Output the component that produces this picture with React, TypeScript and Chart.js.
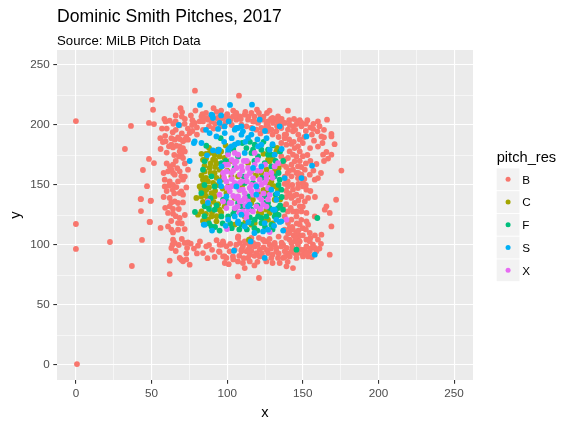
import { useEffect, useRef } from "react";
import { Chart, registerables } from "chart.js";

Chart.register(...registerables);

const FONT = '"Liberation Sans", Arial, Helvetica, sans-serif';
const TITLE = "Dominic Smith Pitches, 2017";
const SUBTITLE = "Source: MiLB Pitch Data";
const X_TITLE = "x";
const Y_TITLE = "y";
const LEGEND_TITLE = "pitch_res";
const CATEGORIES = ["B", "C", "F", "S", "X"];
const COLORS = ["#F8766D", "#A3A500", "#00BF7D", "#00B0F6", "#E76BF3"];
const AXIS_TICKS = [0, 25, 50, 75, 100, 125, 150, 175, 200, 225, 250];
const AXIS_LABEL_TICKS = [0, 50, 100, 150, 200, 250];
const AXIS_MIN = -12.5;
const AXIS_MAX = 262.5;

const B_POINTS: [number, number][] = [
  [0, 203.3], [0, 117.5], [0, 96.7], [0.7, 0.8], [22.5, 102.5], [37, 82.5], [32.4, 180], [36.4, 199.2],
  [48.3, 201.7], [51.6, 200.8], [48.3, 171.7], [51.6, 168.3], [44.3, 162.5], [47, 149], [43, 138.3],
  [49.6, 137], [43, 128.3], [49, 119.2], [43.7, 104.2], [51, 212.7], [50.3, 221], [78.7, 228.6],
  [107.8, 224.4], [69.2, 214], [70.2, 210.8], [119.7, 212.8],
  [56.9, 197], [58.5, 205], [59.3, 203], [62, 203.6], [64.4, 201], [65.9, 203], [68.6, 199.7], [71.9, 201],
  [75.2, 193.3], [76.8, 200], [78.5, 201.7], [81.8, 203], [83, 207], [83.6, 209], [85.1, 205.8], [87.5, 204.4],
  [89.6, 203], [92.9, 205.8], [95, 207], [97.3, 205.8], [100.6, 205.8], [103.8, 207], [106, 204.4], [107.2, 205.8],
  [126.3, 210], [140.2, 211.9], [133.6, 207.2], [132.5, 204.4], [133.6, 203], [144.2, 205], [146.9, 203], [166, 204.4],
  [111.6, 208.6], [108.3, 207.2], [113.8, 204.4], [117.1, 203], [120.4, 201.7], [123.7, 204.4], [127, 203],
  [130.3, 201.7], [135.8, 200.3], [138, 201.7], [141.3, 200.3], [143.5, 198.9], [145.8, 200.8], [149.1, 198.9],
  [109.4, 200.3], [112.7, 198.9], [116, 197.5], [119.3, 196.1], [122.6, 197.5], [125.9, 198.9], [129.2, 196.1],
  [132.5, 194.7], [135.8, 197.5], [140.2, 196.1], [143.5, 194.7],
  [80, 198], [84, 196], [88, 199], [92, 201], [96, 199], [99, 202], [103, 200], [86, 210], [93, 211], [100, 209],
  [104, 212], [112, 211], [118, 207], [124, 207], [130, 206], [136, 205], [148, 204], [152, 201], [155, 198],
  [127, 199], [72, 205], [66, 208], [60, 197], [74, 197],
  [66, 196], [70, 193], [73, 190], [77, 195], [80, 192], [84, 203], [88, 206], [91, 197], [95, 204], [98, 207],
  [102, 204], [105, 208], [109, 205], [114, 207], [118, 203], [122, 206], [126, 201], [129, 205], [133, 199],
  [137, 202], [141, 204], [145, 196], [149, 202], [153, 204], [157, 201], [161, 199], [164, 196], [160, 203],
  [156, 192], [152, 195], [147, 192], [138, 192], [134, 190], [130, 192], [127, 195], [122, 193], [70, 207],
  [76, 208], [79, 212], [91, 214], [96, 212], [106, 210], [116, 210], [121, 210], [128, 212], [64, 194],
  [59, 191], [77, 204],
  [156.8, 196.7], [159.7, 194.7], [162.3, 190.5], [164, 189.7], [168.9, 192.5], [168.9, 190.5], [157.4, 186.9],
  [154.8, 180.8], [163.4, 175.3], [165.6, 177.5], [168.9, 175.3], [166.7, 172], [159, 167.5], [175.5, 162],
  [138, 189], [135.8, 185], [139.1, 183.6], [142.5, 184.2], [144.6, 180.8], [146.8, 182.2], [141.3, 178],
  [143.5, 175.3], [145.8, 173.8], [140.2, 172.5], [144.6, 169.7], [142.5, 166.9], [146.8, 165.5], [143.5, 162.8],
  [145.8, 160], [142.5, 157.2], [146.8, 155.8], [149.1, 158.6], [151.3, 162.8], [154.6, 158.6], [135.8, 173.8],
  [136.9, 166.9], [157.9, 154.4], [160, 155.8], [138, 171],
  [150, 152], [148, 170], [150, 185], [153, 175], [138, 151], [140, 160], [139, 140], [137, 132], [155, 145],
  [158, 140], [160, 182],
  [139, 192], [141, 188], [144, 186], [148, 188], [151, 190], [148, 178], [150, 174], [147, 160], [149, 165],
  [152, 168], [155, 170], [139, 165], [141, 162], [138, 157], [140, 153], [143, 150], [147, 151], [151, 155],
  [152, 150], [139, 145], [141, 143], [144, 141], [147, 137], [150, 132], [146, 128], [140, 128], [139, 134],
  [142, 131], [146, 118], [149, 121], [150, 114], [144, 108], [139, 106], [148, 108], [155, 106], [158, 108],
  [162, 101], [155, 97], [150, 92], [140, 93], [137, 100], [164, 170], [162, 160], [157, 162], [171, 184],
  [163, 185],
  [140.2, 148.8], [143.5, 146.1], [146.8, 147.5], [150.1, 148.8], [152.4, 146.1], [145.8, 141.9], [142.5, 139.2],
  [149.1, 140.5], [151.3, 136.3], [153.5, 139.2], [144.6, 135], [148, 132.2], [143.5, 128], [149.1, 128],
  [152.4, 126.7], [145.8, 123.8], [142.5, 121.1], [140.2, 118.3], [141.3, 114.2], [143.5, 112.8], [145.8, 110],
  [146.8, 105.8], [144.6, 103], [148, 103], [142.5, 101.7], [151.3, 96.1], [146.8, 93.3], [153.5, 90.5],
  [154.6, 103], [157.9, 97.5], [140.2, 110], [141.3, 104.4], [157.9, 123.8], [152.4, 119.7], [153.5, 116.9],
  [165.6, 132.2], [167.8, 126.7], [168.9, 115.5], [172, 137.7], [164.5, 129.4], [138, 123.8], [138, 112.8],
  [143, 115], [147, 112], [150, 108], [145, 106], [141, 110], [152, 113], [148, 117],
  [95, 94.2], [96.2, 100.3], [97.2, 103], [98.3, 90.5], [103.8, 90.5], [107.1, 106.3], [108.3, 101.7],
  [109.4, 96.1], [110.4, 98.8], [112.7, 101.7], [114.9, 98.8], [117.1, 101.7], [119.3, 100.3], [121.5, 96.1],
  [112.7, 94.7], [113.8, 89.2], [107.1, 86.3], [110.4, 85], [114.9, 86.3], [111.6, 80.8], [114.9, 91.9],
  [119.3, 93.3], [121.5, 90.5], [123.7, 104.4], [125.9, 103], [128.1, 100.3], [127, 93.3], [129.2, 89.2],
  [131.4, 100.3], [132.5, 94.7], [134.7, 85], [136.9, 89.2], [139.2, 97.5], [139.2, 82.2], [141.3, 90.5],
  [142.5, 94.7], [144.6, 93.3], [145.8, 89.2], [146.8, 100.3], [149, 96.1], [150.1, 90.5], [152.4, 104.4],
  [152.4, 98.8], [154.6, 94.7], [156.7, 100.3], [159, 94.7], [160, 104.4], [162.3, 108.6], [154.6, 110],
  [167.8, 91.9], [107.1, 73.8], [121, 72.5], [107.3, 107.2], [111.6, 103], [114.9, 100.3], [113.8, 96.1],
  [118.2, 98.8], [120.4, 100.3], [124.8, 103], [131.4, 101.7], [132.5, 97.5], [135.8, 98.8], [138, 94.7],
  [143.5, 80.8], [109.4, 94.7], [133.6, 89.2], [125.9, 86.3],
  [66, 95], [68, 100], [70, 105], [73, 93], [78, 97], [82, 103], [88, 100], [90, 96], [93, 104], [102, 101],
  [105, 96], [104, 88], [108, 91], [111, 89], [116, 95], [118, 91], [120, 86], [124, 98], [123, 93], [126, 96],
  [130, 92], [129, 97], [134, 93], [136, 102], [138, 90], [140, 86], [143, 98], [147, 97], [152, 93], [156, 90],
  [161, 97], [116, 106], [121, 106], [128, 105], [134, 107], [130, 85], [118, 83], [101, 84], [87, 89], [80, 93],
  [73, 88],
  [95, 100.3], [97.4, 101.7], [99.5, 98.9], [94.6, 94.7], [97.3, 90.5], [99.5, 89.2], [98.4, 85], [91.7, 90],
  [101.6, 94.7], [106, 100.3], [107.2, 105.8], [64.2, 104.4], [63.8, 100.3], [63.1, 97.5], [65.3, 101.7],
  [71.9, 101.7], [74.1, 102.2], [75.9, 101.1], [73.5, 97.5], [80.7, 99.4], [86.2, 98.9], [84, 93.3],
  [68.6, 89.2], [69.7, 87.8], [70.8, 86.4], [62, 86.9], [75.2, 83.6], [62, 75.8], [56, 114.2], [48.7, 119.2],
  [55.8, 189], [57.5, 185.8], [59.3, 186.4], [63.1, 189], [65.3, 187.8], [67.5, 189.7], [68.6, 188.3],
  [70.8, 186.4], [71.9, 187.8], [74.1, 187.8], [61.5, 182.2], [63.1, 183.6], [64.2, 181.3], [66.4, 182.7],
  [68.6, 182.2], [70.8, 180.8], [68.6, 178], [69.7, 175.3], [68.1, 173.8], [70.8, 172.5], [62, 165.5],
  [64.2, 166.9], [63.1, 162.8], [60.9, 161.4], [64.2, 160], [65.3, 158.6], [68.6, 161.4], [69.7, 157.2],
  [74.1, 162.8], [70.8, 154.4], [67.5, 153], [58.7, 154.4], [62, 153], [58.7, 148.8], [61.5, 149.4],
  [64.2, 150], [66.4, 148.3], [69.7, 144.7], [70.8, 141.9], [68.6, 143.3], [42.8, 138.3], [49.4, 136.7],
  [62, 139.2], [63.1, 135.5], [65.3, 136.4], [67.5, 135], [70.8, 135.5], [62, 132.2], [64.2, 130],
  [60.9, 126.7], [64.2, 126.1], [68.6, 122.5], [67.5, 118.3], [60.9, 115.5], [63.1, 112.8], [64.2, 110.5],
  [67.5, 112.8], [71.9, 113.3],
  [56, 180], [60, 177], [65, 175], [72, 178], [66, 170], [60, 168], [72, 168], [58, 160], [67, 164], [72, 157],
  [60, 145], [65, 143], [73, 148], [64, 146], [58, 140], [68, 130], [72, 125], [63, 120], [66, 124], [70, 118],
  [59, 131],
];

const C_POINTS: [number, number][] = [
  [88.4, 176.7], [91.7, 175.3], [95, 173.8], [90.7, 171.1], [98.3, 172.5], [85.1, 161.3], [88.4, 164.2],
  [91.7, 160], [95, 162.8], [87.3, 153], [90.7, 151.7], [86.2, 146.1], [89.6, 143.3], [82.9, 140.5],
  [87.3, 137.7], [91.7, 140.5], [95, 129.4], [98.3, 132.2], [89.6, 123.8], [87.3, 121.1], [113.8, 168.3],
  [122.6, 160], [127, 171.1], [132.5, 178], [116, 161.3], [107.2, 157.2], [100.6, 148.8], [105, 139.2],
  [116, 135], [122.6, 126.7], [127, 121.1], [125.9, 129.4], [131.4, 137.7], [111.6, 123.8], [102.8, 157.2],
  [96.2, 154.4], [99.5, 143.3], [108.3, 146.1], [120.4, 143.3], [129.2, 153], [133.6, 146.1], [118.2, 118.3],
  [92.9, 119.7], [82.9, 146.1], [84, 154.4], [81.8, 148.8], [94, 179.4], [127, 144.7], [128.1, 150.3],
  [124.8, 119.7], [116, 116.9], [128.1, 126.7], [114.4, 104.4], [133, 181], [128.1, 169.7], [127, 158.6],
  [131.4, 161.3], [79.6, 139.2], [80.7, 125.3], [84, 171], [86, 176], [93, 168], [97, 166], [85, 166],
  [84, 150], [86, 141], [88, 148], [92, 145],
  [83, 176], [86, 172], [89, 168], [92, 165], [83, 158], [86, 156], [89, 160], [93, 156], [84, 136], [88, 133],
  [91, 136], [94, 134], [83, 128], [86, 126], [90, 127], [93, 124], [96, 127], [84, 120], [97, 147], [94, 150],
  [97, 158], [100, 162], [102, 170], [85, 144], [92, 171], [96, 178], [99, 183], [88, 181],
  [124, 176], [130, 172], [134, 164], [126, 163], [119, 158], [110, 150], [117, 138], [124, 146], [131, 149],
  [121, 127], [112, 119], [105, 117], [130, 118], [135, 138],
];

const F_POINTS: [number, number][] = [
  [86.2, 182.7], [85.1, 169.7], [84, 162.8], [82.9, 143.3], [89.6, 157.2], [96.2, 168.3], [100.6, 176.7],
  [105, 164.2], [112.7, 180.8], [120.4, 173.8], [122.6, 179.4], [129.2, 165.5], [131.4, 157.2], [134.7, 154.4],
  [135.8, 146.1], [136.9, 129.4], [131.4, 123.8], [129.2, 116.9], [122.6, 118.3], [120.4, 123.8], [116, 129.4],
  [113.8, 140.5], [109.4, 132.2], [105, 129.4], [100.6, 123.8], [96.2, 123.8], [91.7, 129.4], [89.6, 115.5],
  [85.1, 132.2], [111.6, 151.7], [117.1, 151.7], [124.8, 140.5], [127, 135], [97.3, 137.7], [91.7, 148.8],
  [107.2, 173.8], [116, 176.7], [133.6, 130.8], [78.7, 127.5], [95.7, 189], [118.2, 183.6], [127, 179.4],
  [127, 175.3], [107.2, 135], [111.6, 132.2], [121.5, 130.8], [124.8, 135], [125.9, 123.8], [118.2, 121.1],
  [109.4, 116.9], [116, 118.3], [122.6, 122.5], [117.1, 179.4], [129.2, 175.3], [124.8, 168.3], [145.8, 96.1],
  [159.6, 122.5], [95, 112], [103, 114], [85, 124], [88, 130], [132, 142], [134, 160], [120, 112],
  [132, 170], [134, 150], [136, 140], [135, 133], [132, 127], [128, 131], [134, 125], [130, 113], [125, 115],
  [118, 114], [113, 113], [108, 113], [102, 118], [97, 118], [92, 115], [88, 118], [93, 133], [89, 139],
  [85, 150], [99, 170], [104, 180], [110, 185], [115, 186], [124, 186], [130, 183], [135, 178], [137, 170],
  [118, 170], [111, 157], [123, 156], [100, 136], [104, 126], [120, 133], [115, 123],
];

const S_POINTS: [number, number][] = [
  [89.6, 208.6], [90.6, 205.8], [98.3, 198.8], [95, 201.7], [92.9, 190.5], [105, 196.1], [109.4, 198.8],
  [110.4, 194.7], [107.2, 185], [102.8, 182.2], [100.6, 179.4], [94, 178], [120.4, 182.2], [122.6, 183.6],
  [131.4, 175.3], [128.1, 179.4], [111.6, 176.7], [96.2, 165.5], [122.6, 165.5], [95, 153], [119.3, 148.8],
  [99.5, 140.5], [87.3, 135], [113.8, 132.2], [105, 123.8], [111.6, 115.5], [100.6, 121.1], [107.2, 118.3],
  [131.4, 129.4], [132.5, 121.1], [124.8, 118.3], [127, 112.8], [135.8, 119.7], [85.1, 116.9], [138, 155.8],
  [129.2, 146.1], [106.1, 148.8], [117.1, 164.2], [82, 216.7], [101.9, 216.7], [116.4, 216.9], [68, 200],
  [90.2, 208], [94, 196.7], [98.4, 193.3], [88.4, 193.3], [106, 197.5], [78, 185], [75.2, 170], [86.7, 174.7],
  [90.6, 178.8], [94.6, 179.4], [101.6, 180.8], [105, 183.6], [121.5, 204.4], [134.7, 198.9], [152.4, 190.5],
  [156.1, 166.1], [149.1, 155.8], [84.5, 117], [104.5, 95.2], [124.8, 89.2], [157.9, 91.9], [115.5, 103],
  [123.7, 111.3], [134.7, 119.2], [109.4, 125.3], [114.9, 133.6], [119.3, 141.9], [130.3, 129.4],
  [132.5, 137.7], [107.2, 119.7], [107.2, 197.5], [109.4, 191.9], [113.8, 189.2], [78.5, 186.4],
  [98, 186], [103, 189], [112, 186], [116, 192], [120, 188], [126, 189], [125, 195], [117, 197], [101, 203],
  [96, 208], [86, 196], [83, 185], [130, 184], [136, 180], [99, 116], [114, 119], [118, 110], [131, 116],
  [137, 112], [90, 112], [96, 149], [133, 143],
];

const X_POINTS: [number, number][] = [
  [100.6, 166.9], [105, 168.3], [109.4, 165.5], [113.8, 164.2], [118.2, 166.9], [102.8, 160], [108.3, 158.6],
  [112.7, 157.2], [117.1, 155.8], [121.5, 154.4], [125.9, 158.6], [99.5, 153], [105, 151.7], [109.4, 153],
  [114.9, 147.5], [122.6, 150.3], [127, 147.5], [101.7, 144.7], [107.2, 140.5], [111.6, 143.3], [117.1, 141.9],
  [122.6, 137.7], [102.8, 135], [108.3, 136.3], [113.8, 136.3], [119.3, 132.2], [123.7, 133.6], [99.5, 130.8],
  [105, 130.8], [110.4, 128], [129.2, 160], [131.4, 165.5], [97.3, 160], [133.6, 168.3], [128.1, 141.9],
  [118.2, 176.7], [139.2, 121.1], [99.9, 113.3], [128.1, 110.8], [100.6, 175.3], [98.4, 166.9], [99.5, 161.3],
  [106.1, 164.2], [95, 141.9], [97.3, 136.3], [101.6, 135], [106.1, 139.2], [87.3, 136.3], [105, 176.7],
  [107.2, 175.3], [106.1, 169.7], [106.1, 148.8], [108.3, 151.7], [110.4, 146.1], [111.6, 139.2],
  [112.7, 122.5], [115, 160], [120, 162], [111, 170], [103, 155], [116, 150], [125, 152], [114, 130], [120, 146],
  [104, 162], [110, 162], [116, 162], [122, 162], [103, 149], [108, 146], [113, 153], [119, 150], [124, 143],
  [104, 141], [110, 137], [116, 145], [121, 140], [127, 138], [107, 132], [112, 133], [117, 128], [122, 130],
  [100, 148], [126, 155], [130, 156], [113, 170], [120, 171], [125, 167], [103, 171], [98, 156], [113, 126],
  [126, 132], [108, 127],
];

const SERIES_POINTS = [B_POINTS, C_POINTS, F_POINTS, S_POINTS, X_POINTS];
// lower order is drawn on top: S on top, B at the bottom
const SERIES_ORDER = [4, 3, 2, 0, 1];

const isMajor = (v: number) => AXIS_LABEL_TICKS.includes(v);

const decorPlugin = {
  id: "ggDecor",
  beforeDraw(chart: any) {
    const { ctx, chartArea } = chart;
    ctx.save();
    ctx.fillStyle = "#FFFFFF";
    ctx.fillRect(0, 0, chart.width, chart.height);
    ctx.fillStyle = "#EBEBEB";
    ctx.fillRect(chartArea.left, chartArea.top, chartArea.right - chartArea.left, chartArea.bottom - chartArea.top);
    ctx.restore();
  },
  afterDraw(chart: any) {
    const { ctx, chartArea } = chart;
    ctx.save();
    ctx.fillStyle = "#000000";
    ctx.textAlign = "left";
    ctx.textBaseline = "alphabetic";
    ctx.font = `17.6px ${FONT}`;
    ctx.fillText(TITLE, chartArea.left, 21.8);
    ctx.font = `13.2px ${FONT}`;
    ctx.fillText(SUBTITLE, chartArea.left, 44.5);

    ctx.font = `14.67px ${FONT}`;
    ctx.textAlign = "center";
    ctx.fillText(X_TITLE, (chartArea.left + chartArea.right) / 2, 416.8);
    ctx.save();
    ctx.translate(20.3, (chartArea.top + chartArea.bottom) / 2);
    ctx.rotate(-Math.PI / 2);
    ctx.fillText(Y_TITLE, 0, 0);
    ctx.restore();

    ctx.textAlign = "left";
    ctx.font = `14.67px ${FONT}`;
    ctx.fillText(LEGEND_TITLE, 496.7, 161.8);
    const keyX = 496.7;
    const keyW = 22.75;
    const step = 22.75;
    const firstCenter = 179.3;
    CATEGORIES.forEach((cat, i) => {
      const cy = firstCenter + i * step;
      ctx.fillStyle = "#F2F2F2";
      ctx.fillRect(keyX, cy - step / 2 + 0.5, keyW, step - 1);
      ctx.fillStyle = COLORS[i];
      ctx.beginPath();
      ctx.arc(keyX + keyW / 2, cy, 2.5, 0, Math.PI * 2);
      ctx.fill();
      ctx.fillStyle = "#000000";
      ctx.font = `11.7px ${FONT}`;
      ctx.fillText(cat, 522.3, cy + 4.2);
    });
    ctx.restore();
  },
};

function axisOptions(isX: boolean) {
  return {
    type: "linear",
    min: AXIS_MIN,
    max: AXIS_MAX,
    bounds: "data",
    afterBuildTicks: (scale: any) => {
      scale.ticks = AXIS_TICKS.map((v) => ({ value: v }));
    },
    afterFit: (scale: any) => {
      if (isX) scale.height = 44;
      else scale.width = 57;
    },
    border: { display: false },
    grid: {
      color: "#FFFFFF",
      lineWidth: (c: any) => (c.tick && isMajor(c.tick.value) ? 1.1 : 0.55),
      drawTicks: true,
      tickLength: 3.7,
      tickColor: (c: any) => (c.tick && isMajor(c.tick.value) ? "#333333" : "rgba(0,0,0,0)"),
      tickWidth: (c: any) => (c.tick && isMajor(c.tick.value) ? 1.1 : 0),
    },
    ticks: {
      autoSkip: false,
      maxRotation: 0,
      minRotation: 0,
      padding: isX ? 3 : 3.5,
      color: "#4D4D4D",
      font: { family: FONT, size: 11.7 },
      callback: (v: any) => (isMajor(Number(v)) ? String(v) : ""),
    },
    title: { display: false },
  };
}

export default function App() {
  const ref = useRef<HTMLCanvasElement | null>(null);
  useEffect(() => {
    if (!ref.current) return;
    const datasets = CATEGORIES.map((cat, i) => ({
      label: cat,
      data: SERIES_POINTS[i].map(([x, y]) => ({ x, y })),
      backgroundColor: COLORS[i],
      borderWidth: 0,
      pointRadius: 2.9,
      pointHoverRadius: 2.9,
      order: SERIES_ORDER[i],
    }));
    const chart = new Chart(ref.current, {
      type: "scatter",
      data: { datasets },
      options: {
        animation: false,
        responsive: true,
        maintainAspectRatio: false,
        events: [],
        layout: { padding: { top: 50, right: 98, bottom: 0, left: 0 } },
        plugins: {
          legend: { display: false },
          title: { display: false },
          tooltip: { enabled: false },
        },
        scales: {
          x: axisOptions(true) as any,
          y: axisOptions(false) as any,
        },
      },
      plugins: [decorPlugin],
    });
    return () => chart.destroy();
  }, []);
  return (
    <div style={{ position: "absolute", left: 0, top: 0, width: 571, height: 424, background: "#FFFFFF" }}>
      <canvas ref={ref} />
    </div>
  );
}
